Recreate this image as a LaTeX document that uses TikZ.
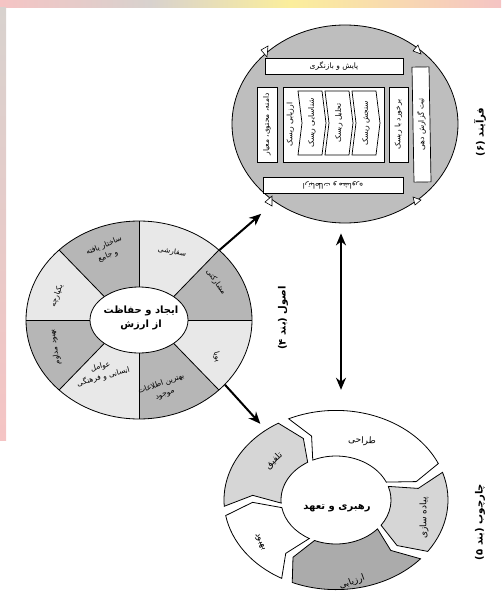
\documentclass[tikz,border=0pt]{standalone}
\usepackage{fontspec}
\usetikzlibrary{arrows.meta, shapes.geometric, calc}
\newfontfamily\fafont[Script=Arabic]{DejaVu Sans}
\TeXXeTstate=1
\newcommand\rtl[1]{\beginR #1\endR}
\definecolor{segdark}{HTML}{B6B6B6}
\definecolor{seglight}{HTML}{E8E8E8}
\definecolor{procgray}{HTML}{BEBEBE}
\definecolor{piecelight}{HTML}{D6D6D6}
\definecolor{piecedark}{HTML}{ABABAB}
\definecolor{bgpink}{HTML}{F5C4C4}
\definecolor{bggray}{HTML}{D8D2CE}
\definecolor{bgyellow}{HTML}{FBEE9C}

\begin{document}
\begin{tikzpicture}[x=1pt, y=-1pt,
    every node/.style={font=\fafont\fontsize{7.5}{9}\selectfont, inner sep=0pt, align=center},
    procbar/.style={draw, fill=white, line width=0.7pt, minimum height=16, inner sep=1pt},
    sidelabel/.style={font=\fafont\bfseries\fontsize{10}{12}\selectfont, rotate=90},
    seglabel/.style={font=\fafont\fontsize{7.5}{11}\selectfont},
    piecelabel/.style={font=\fafont\fontsize{9}{11}\selectfont},
    centerlabel/.style={font=\fafont\bfseries\fontsize{10}{14}\selectfont},
    edgeline/.style={draw, line width=0.8pt},
    arrow/.style={-{Stealth[length=12pt, width=10pt]}, line width=2pt},
    dblarrow/.style={{Stealth[length=12pt, width=10pt]}-{Stealth[length=12pt, width=10pt]}, line width=2pt}
]
\useasboundingbox (0,0) rectangle (501,610);

% scan edges
\shade[left color=bgpink, right color=bggray] (0,0) rectangle (150,8);
\shade[left color=bggray, right color=bgyellow] (150,0) rectangle (290,8);
\shade[left color=bgyellow, right color=bgpink] (290,0) rectangle (501,8);
\shade[top color=bggray, bottom color=bgpink] (0,8) rectangle (6,440);

% principles
\fill[seglight] (139,320) ellipse [x radius=113, y radius=99];
\begin{scope}[shift={(139,320)}, yscale=-1]
  \foreach \a in {0,90,180,270}
    \fill[segdark] (\a:113 and 99) arc[start angle=\a, end angle=\a+45, x radius=113, y radius=99]
      -- (\a+45:49 and 33) arc[start angle=\a+45, end angle=\a, x radius=49, y radius=33] -- cycle;
  \foreach \a in {0,45,...,315}
    \draw[line width=0.8pt] (\a:49 and 33) -- (\a:113 and 99);
\end{scope}
\node[ellipse, edgeline, minimum width=226, minimum height=198] (principles) at (139,320) {};
\node[ellipse, edgeline, fill=white, minimum width=98, minimum height=66] (value) at (139,320) {};
\node[centerlabel] (valuetext) at (141,318) {\rtl{ایجاد و حفاظت}\\\rtl{از ارزش}};

\node[seglabel, rotate=-8] (custom) at (172,252) {\rtl{سفارشی}};
\node[seglabel, rotate=22] (structured) at (106,251) {\rtl{ساختار یافته}\\\rtl{و جامع}};
\node[seglabel, rotate=-55] (inclusive) at (216,282) {\rtl{مشارکتی}};
\node[seglabel, rotate=-75] (dynamic) at (217,357) {\rtl{پویا}};
\node[seglabel, rotate=20] (bestinfo) at (163,389) {\rtl{بهترین اطلاعات}\\\rtl{موجود}};
\node[seglabel, rotate=15] (human) at (102,372) {\rtl{عوامل}\\\rtl{انسانی و فرهنگی}};
\node[seglabel, rotate=100] (continual) at (55,347) {\rtl{بهبود مداوم}};
\node[seglabel, rotate=70] (integrated) at (57,296) {\rtl{یکپارچه}};
\node[sidelabel] (princlabel) at (283,318) {\rtl{اصول (بند ۴)}};

% process
\node[ellipse, edgeline, fill=procgray, minimum width=226, minimum height=198] (process) at (345,124) {};
\node[procbar, minimum width=138] (monitor) at (334,66) {\rtl{پایش و بازنگری}};
\node[procbar, minimum width=140, rotate=180] (commun) at (333,185) {\rtl{ارتباطات و مشاوره}};
\node[procbar, rotate=91, minimum width=115, minimum height=17] (record) at (421.5,124.5) {\rtl{ثبت گزارش دهی}};
\node[procbar, rotate=90, minimum width=75, minimum height=20] (context) at (267,124.5) {\rtl{دامنه، محتوی، معیار}};
\node[draw, line width=0.7pt, fill=white, minimum width=101, minimum height=75] (assess) at (333.5,124.5) {};
\node[rotate=90] (assesstext) at (290.5,124.5) {\rtl{ارزیابی ریسک}};
\foreach \x/\t in {298/شناسایی ریسک, 325/تحلیل ریسک, 352/سنجش ریسک} {
  \draw[line width=0.7pt] (\x,91) -- (\x+24,91) -- (\x+28,123) -- (\x+24,155) -- (\x,155) -- (\x+4,123) -- cycle;
  \node[rotate=90] (chev\x) at (\x+14,123) {\rtl{\t}};
}
\node[procbar, rotate=90, minimum width=75, minimum height=19] (treat) at (398.5,124.5) {\rtl{برخورد با ریسک}};
\draw[fill=white, line width=0.6pt] (261,50) -- (268,46) -- (267,57) -- cycle;
\draw[fill=white, line width=0.6pt] (413,51) -- (418,45) -- (421,54) -- cycle;
\draw[fill=white, line width=0.6pt] (265,202) -- (272,196) -- (272,206) -- cycle;
\draw[fill=white, line width=0.6pt] (413,197) -- (421,200) -- (415,205) -- cycle;
\node[sidelabel] (proclabel) at (480,132) {\rtl{فرآیند (۶)}};

% framework
\node[ellipse, minimum width=224, minimum height=180] (framework) at (336,500) {};
\begin{scope}[shift={(336,500)}, yscale=-0.8]
  \foreach \s/\e/\col in {118/21/white, 21/-38/piecelight, -38/-116/piecedark, -116/-173/white, 187/118/piecelight}
    \draw[edgeline, fill=\col] (\s-3:112) arc[start angle=\s-3, end angle=\e+3, radius=112]
      -- (\e-5:83.5) -- (\e+3:55) arc[start angle=\e+3, end angle=\s-3, radius=55]
      -- (\s-11:83.5) -- cycle;
\end{scope}
\node[centerlabel] (leadership) at (337,508) {\rtl{رهبری و تعهد}};
\node[piecelabel, rotate=-3] (design) at (362,441) {\rtl{طراحی}};
\node[piecelabel, rotate=90] (implement) at (424,518) {\rtl{پیاده سازی}};
\node[piecelabel, rotate=20] (evaluate) at (352,582) {\rtl{ارزیابی}};
\node[piecelabel, rotate=-65] (improve) at (260,542) {\rtl{بهبود}};
\node[piecelabel, rotate=45] (integrate) at (274,461) {\rtl{تلفیق}};
\node[sidelabel] (framelabel) at (480,522) {\rtl{چارچوب (بند ۵)}};

\draw[arrow, shorten >=18pt] (principles.41) -- (process.228);
\draw[arrow, shorten >=8pt] (principles.-37) -- (framework.135);
\draw[dblarrow, shorten <=10pt, shorten >=20pt] ([xshift=-4pt]process.south) -- ([xshift=-4pt]process.south |- framework.north);

\end{tikzpicture}
\end{document}
